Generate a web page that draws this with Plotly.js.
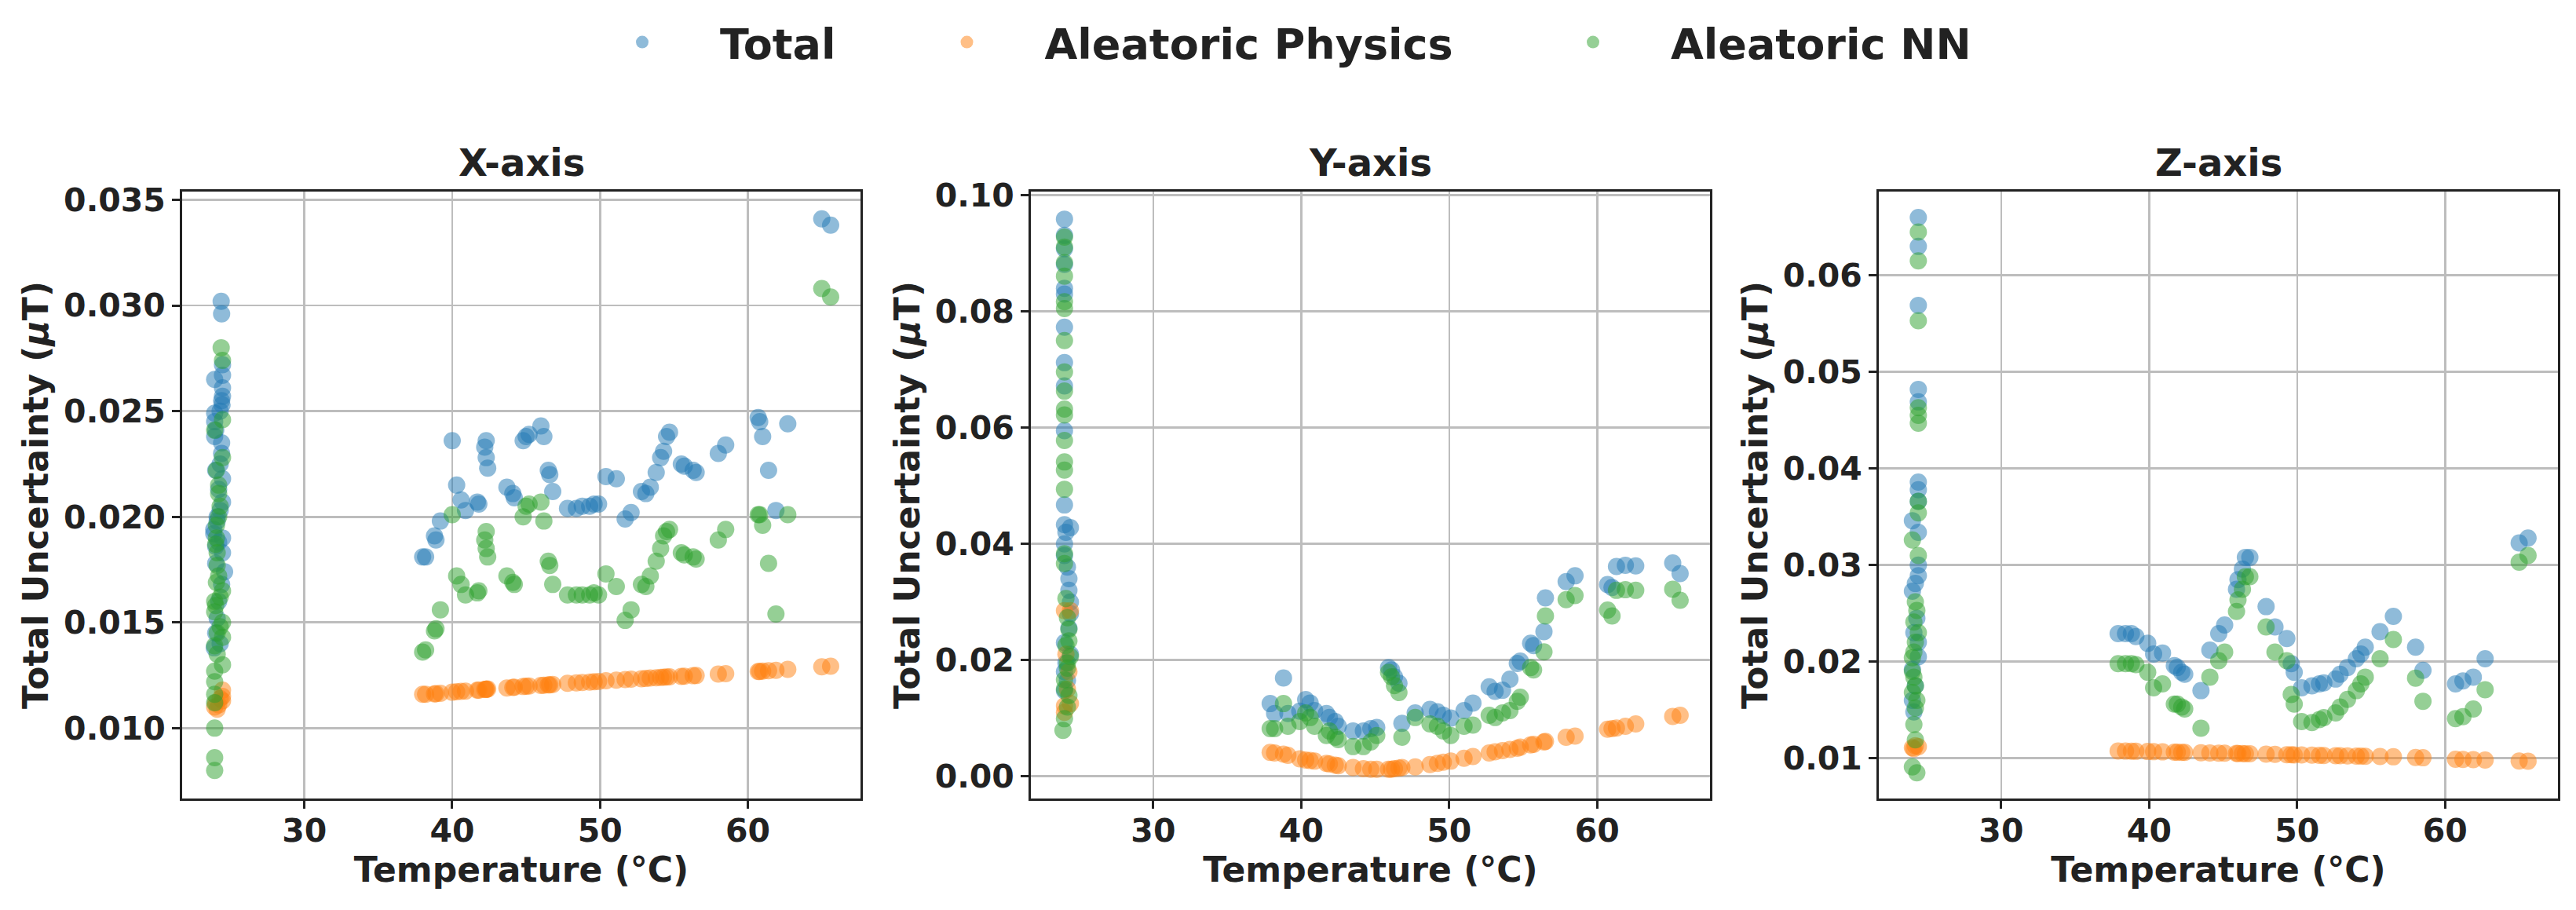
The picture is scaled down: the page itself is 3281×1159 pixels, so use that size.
<!DOCTYPE html>
<html><head><meta charset="utf-8">
<script src="https://cdn.plot.ly/plotly-3.0.1.min.js"></script>
<style>html,body{margin:0;padding:0;background:#fff;} #chart{width:3281px;height:1159px;}</style>
</head><body><div id="chart"></div>
<script>
// ---------- Tick labels ----------
const xTickVals = [30, 40, 50, 60];
const xTickText = ['30', '40', '50', '60'];
const yTickValsX = [0.010, 0.015, 0.020, 0.025, 0.030, 0.035];
const yTickTextX = ['0.010', '0.015', '0.020', '0.025', '0.030', '0.035'];
const yTickValsY = [0.00, 0.02, 0.04, 0.06, 0.08, 0.10];
const yTickTextY = ['0.00', '0.02', '0.04', '0.06', '0.08', '0.10'];
const yTickValsZ = [0.01, 0.02, 0.03, 0.04, 0.05, 0.06];
const yTickTextZ = ['0.01', '0.02', '0.03', '0.04', '0.05', '0.06'];

const panelTitles = ['X-axis', 'Y-axis', 'Z-axis'];
const seriesNames = ['Total', 'Aleatoric Physics', 'Aleatoric NN'];

// ---------- X-axis panel ----------
const hotTempX = [38.0,38.2,38.8,38.9,39.2,40.0,40.3,40.6,40.9,41.7,41.8,42.2,42.3,42.3,42.4,43.7,44.1,44.2,44.8,45.0,45.2,46.0,46.2,46.5,46.6,46.8,47.8,48.4,48.8,49.3,49.6,49.9,50.4,51.1,51.7,52.1,52.8,53.1,53.4,53.8,54.1,54.3,54.5,54.7,55.5,55.7,56.3,56.5,58.0,58.5,60.7,60.8,61.0,61.4,61.9,62.7,65.0,65.6];
const hotTotalX = [0.0181,0.0181,0.0191,0.0189,0.0198,0.0236,0.0215,0.0208,0.0203,0.0207,0.0206,0.0233,0.0236,0.0228,0.0223,0.0214,0.0211,0.0209,0.0236,0.0238,0.0239,0.0243,0.0238,0.0222,0.0220,0.0212,0.0204,0.0204,0.0205,0.0205,0.0206,0.0206,0.0219,0.0218,0.0199,0.0202,0.0212,0.0211,0.0214,0.0221,0.0228,0.0231,0.0238,0.0240,0.0225,0.0224,0.0222,0.0221,0.0230,0.0234,0.0247,0.0245,0.0238,0.0222,0.0203,0.0244,0.0341,0.0338];
const hotPhysX = [0.01160,0.01160,0.01162,0.01163,0.01165,0.01170,0.01172,0.01174,0.01175,0.01180,0.01180,0.01183,0.01184,0.01184,0.01185,0.01190,0.01193,0.01194,0.01197,0.01198,0.01199,0.01202,0.01203,0.01205,0.01205,0.01207,0.01212,0.01214,0.01216,0.01218,0.01220,0.01221,0.01224,0.01227,0.01230,0.01232,0.01234,0.01235,0.01237,0.01238,0.01240,0.01241,0.01242,0.01243,0.01245,0.01246,0.01248,0.01249,0.01256,0.01258,0.01268,0.01268,0.01270,0.01272,0.01274,0.01278,0.01290,0.01293];
const hotNNX = [0.0136,0.0137,0.0146,0.0147,0.0156,0.0201,0.0172,0.0168,0.0163,0.0164,0.0165,0.0189,0.0193,0.0185,0.0181,0.0172,0.0169,0.0168,0.0200,0.0205,0.0206,0.0207,0.0198,0.0179,0.0177,0.0168,0.0163,0.0163,0.0163,0.0163,0.0164,0.0163,0.0173,0.0167,0.0151,0.0156,0.0168,0.0167,0.0172,0.0179,0.0185,0.0191,0.0193,0.0194,0.0183,0.0182,0.0181,0.0180,0.0189,0.0194,0.0201,0.0201,0.0196,0.0178,0.0154,0.0201,0.0308,0.0304];
const coldTempTotalX = [24.37,24.40,23.93,24.46,24.46,24.46,24.40,24.46,24.43,23.93,23.93,24.00,23.93,24.40,24.00,24.46,24.20,24.46,24.30,23.87,23.87,24.10,24.46,24.00,24.60,24.40,24.00,24.20,24.10,24.00,24.30,23.90,24.30,24.40,24.10,24.46,24.30,24.20];
const coldTotalX = [0.0302,0.0296,0.0265,0.0267,0.0272,0.0261,0.0255,0.0257,0.0253,0.0249,0.0245,0.0241,0.0238,0.0235,0.0222,0.0218,0.0213,0.0207,0.0203,0.0194,0.0192,0.0198,0.0183,0.0186,0.0174,0.0168,0.0178,0.0160,0.0152,0.0145,0.0140,0.0138,0.0225,0.0230,0.0200,0.0190,0.0250,0.0188];
const coldTempPhysX = [24.46,24.46,24.46,23.93,24.20,24.00,24.30,24.10];
const coldPhysX = [0.0118,0.0115,0.0113,0.0110,0.0111,0.0112,0.0114,0.0109];
const coldTempNNX = [24.37,24.46,24.46,23.93,24.46,24.05,24.20,24.20,24.30,24.05,24.05,24.10,24.10,24.05,24.46,23.93,23.93,24.46,24.46,23.93,24.46,23.93,23.93,23.93,23.93,23.93,23.93,23.93,24.20,24.00,24.30,24.10,24.20,24.00,24.30,24.10];
const coldNNX = [0.0280,0.0274,0.0246,0.0241,0.0228,0.0222,0.0215,0.0211,0.0205,0.0196,0.0190,0.0183,0.0177,0.0169,0.0165,0.0160,0.0155,0.0150,0.0143,0.0139,0.0130,0.0127,0.0122,0.0116,0.0112,0.0100,0.0086,0.0080,0.0172,0.0158,0.0148,0.0135,0.0200,0.0187,0.0162,0.0145];

// ---------- Y-axis panel ----------
const hotTempY = [37.9,38.2,38.8,39.1,39.9,40.3,40.6,40.9,41.7,41.9,42.3,42.5,43.5,44.2,44.7,45.1,45.9,46.1,46.3,46.6,46.8,47.7,48.7,49.2,49.6,50.1,51.0,51.6,52.7,53.1,53.6,54.1,54.6,54.8,55.5,55.7,56.4,56.5,57.9,58.5,60.7,61.0,61.3,61.9,62.6,65.1,65.6];
const hotTotalY = [0.0125,0.0108,0.0169,0.0108,0.0112,0.0132,0.0126,0.0113,0.0108,0.0101,0.0094,0.0086,0.0078,0.0078,0.0082,0.0084,0.0187,0.0183,0.0171,0.0160,0.0091,0.0109,0.0115,0.0111,0.0105,0.0100,0.0113,0.0126,0.0154,0.0146,0.0148,0.0167,0.0194,0.0198,0.0229,0.0225,0.0249,0.0307,0.0335,0.0345,0.0330,0.0325,0.0361,0.0363,0.0362,0.0367,0.0349];
const hotPhysY = [0.0041,0.0040,0.0038,0.0036,0.0030,0.0028,0.0027,0.0026,0.0022,0.0021,0.0019,0.0018,0.0015,0.0013,0.0012,0.0012,0.0012,0.0012,0.0013,0.0014,0.0015,0.0016,0.0020,0.0022,0.0024,0.0026,0.0031,0.0034,0.0040,0.0042,0.0044,0.0046,0.0048,0.0050,0.0054,0.0055,0.0059,0.0060,0.0067,0.0069,0.0081,0.0082,0.0083,0.0086,0.0090,0.0103,0.0105];
const hotNNY = [0.0082,0.0082,0.0125,0.0086,0.0094,0.0109,0.0101,0.0086,0.0070,0.0078,0.0067,0.0063,0.0051,0.0051,0.0059,0.0070,0.0179,0.0171,0.0156,0.0144,0.0067,0.0101,0.0090,0.0086,0.0078,0.0070,0.0086,0.0088,0.0105,0.0101,0.0109,0.0113,0.0129,0.0136,0.0187,0.0183,0.0214,0.0276,0.0304,0.0311,0.0286,0.0276,0.0320,0.0321,0.0320,0.0322,0.0303];
const coldTempTotalY = [24.0,24.0,24.0,24.0,24.0,24.0,24.0,24.0,24.0,24.0,24.0,24.0,24.4,24.1,24.0,24.0,24.2,24.3,24.3,24.4,24.4,24.3,24.0,24.4,24.0,24.0,24.2,24.1];
const coldTotalY = [0.0959,0.0931,0.0908,0.0881,0.0840,0.0830,0.0773,0.0712,0.0672,0.0595,0.0467,0.0433,0.0428,0.0420,0.0400,0.0380,0.0360,0.0340,0.0320,0.0300,0.0280,0.0255,0.0230,0.0210,0.0180,0.0147,0.0165,0.0195];
const coldTempPhysY = [24.0,24.4,24.0,24.4,24.2,24.0,24.3,24.1];
const coldPhysY = [0.0285,0.0285,0.0121,0.0125,0.0150,0.0110,0.0180,0.0210];
const coldTempNNY = [24.0,24.0,24.0,24.0,24.0,24.0,24.0,24.0,24.0,24.0,24.0,24.0,24.0,24.0,24.0,24.0,24.0,24.1,24.2,24.3,24.3,24.4,24.2,24.0,24.3,24.2,24.0,23.9,24.1,24.2,24.0];
const coldNNY = [0.0928,0.0911,0.0884,0.0861,0.0817,0.0805,0.0750,0.0696,0.0663,0.0632,0.0622,0.0578,0.0541,0.0527,0.0494,0.0383,0.0366,0.0306,0.0273,0.0253,0.0233,0.0206,0.0186,0.0166,0.0139,0.0119,0.0099,0.0079,0.0225,0.0195,0.0150];

// ---------- Z-axis panel ----------
const hotTempZ = [37.9,38.4,38.8,39.1,39.9,40.3,40.9,41.7,41.9,42.2,42.4,43.5,44.1,44.7,45.1,45.9,46.0,46.3,46.5,46.8,47.9,48.5,49.3,49.6,49.8,50.3,51.0,51.5,51.8,52.6,52.9,53.4,54.0,54.3,54.6,55.6,56.5,58.0,58.5,60.7,61.2,61.9,62.7,65.0,65.6];
const hotTotalZ = [0.0229,0.0229,0.0229,0.0226,0.0219,0.0208,0.0209,0.0196,0.0194,0.0189,0.0187,0.0170,0.0212,0.0229,0.0238,0.0275,0.0285,0.0296,0.0308,0.0308,0.0257,0.0236,0.0224,0.0198,0.0189,0.0173,0.0175,0.0177,0.0178,0.0182,0.0187,0.0194,0.0203,0.0208,0.0215,0.0231,0.0247,0.0215,0.0191,0.0177,0.0180,0.0184,0.0203,0.0323,0.0328];
const hotPhysZ = [0.01075,0.01074,0.01073,0.01072,0.01070,0.01068,0.01066,0.01063,0.01062,0.01061,0.01060,0.01057,0.01055,0.01053,0.01052,0.01050,0.01049,0.01048,0.01047,0.01046,0.01042,0.01040,0.01037,0.01036,0.01035,0.01034,0.01032,0.01030,0.01029,0.01027,0.01026,0.01025,0.01023,0.01022,0.01021,0.01018,0.01015,0.01008,0.01005,0.00990,0.00988,0.00985,0.00982,0.00972,0.00970];
const hotNNZ = [0.0198,0.0198,0.0198,0.0197,0.0189,0.0173,0.0177,0.0156,0.0156,0.0153,0.0151,0.0131,0.0184,0.0201,0.0210,0.0252,0.0264,0.0275,0.0288,0.0288,0.0236,0.0210,0.0201,0.0166,0.0156,0.0138,0.0137,0.0140,0.0142,0.0147,0.0153,0.0161,0.0170,0.0177,0.0184,0.0203,0.0223,0.0183,0.0159,0.0141,0.0143,0.0151,0.0171,0.0303,0.0310];
const coldTempTotalZ = [24.4,24.4,24.4,24.4,24.4,24.4,24.4,24.4,24.0,24.4,24.4,24.2,24.0,24.3,24.4,24.0,24.1,24.4,24.2,24.0,24.4,24.1];
const coldTotalZ = [0.0660,0.0630,0.0569,0.0482,0.0469,0.0386,0.0378,0.0366,0.0346,0.0334,0.0289,0.0281,0.0273,0.0245,0.0220,0.0192,0.0148,0.0205,0.0175,0.0160,0.0300,0.0230];
const coldTempPhysZ = [24.0,24.4,24.2,24.1];
const coldPhysZ = [0.0111,0.0112,0.0113,0.0110];
const coldTempNNZ = [24.4,24.4,24.4,24.4,24.4,24.4,24.4,24.4,24.0,24.4,24.2,24.3,24.1,24.2,24.0,24.1,24.0,24.2,24.1,24.2,24.0,24.3,24.4,24.0,24.3,24.1,24.2];
const coldNNZ = [0.0645,0.0615,0.0553,0.0463,0.0455,0.0447,0.0366,0.0354,0.0326,0.0310,0.0262,0.0253,0.0241,0.0220,0.0204,0.0184,0.0168,0.0152,0.0135,0.0119,0.0091,0.0085,0.0230,0.0190,0.0160,0.0210,0.0175];

// ---------- Build figure ----------
const W = 3281, H = 1159;
const FONT = 'DejaVu Sans, Verdana, sans-serif';
const TXT = '#222222';
const seriesColors = ['#1f77b4', '#ff7f0e', '#2ca02c'];
const legendIds = ['legend', 'legend2', 'legend3'];

const panels = [
  {hotT: hotTempX, hot: [hotTotalX, hotPhysX, hotNNX],
   coldT: [coldTempTotalX, coldTempPhysX, coldTempNNX], cold: [coldTotalX, coldPhysX, coldNNX],
   range: [0.00667, 0.03539], tv: yTickValsX, tt: yTickTextX},
  {hotT: hotTempY, hot: [hotTotalY, hotPhysY, hotNNY],
   coldT: [coldTempTotalY, coldTempPhysY, coldTempNNY], cold: [coldTotalY, coldPhysY, coldNNY],
   range: [-0.00384, 0.10065], tv: yTickValsY, tt: yTickTextY},
  {hotT: hotTempZ, hot: [hotTotalZ, hotPhysZ, hotNNZ],
   coldT: [coldTempTotalZ, coldTempPhysZ, coldTempNNZ], cold: [coldTotalZ, coldPhysZ, coldNNZ],
   range: [0.00583, 0.06868], tv: yTickValsZ, tt: yTickTextZ}
];

const xPix = [[232, 1096], [1313, 2178], [2393, 3258]];
const yDom = [1 - 1017 / H, 1 - 244 / H];

const traces = [];
const layout = {
  width: W, height: H,
  margin: {l: 0, r: 0, t: 0, b: 0, pad: 0},
  paper_bgcolor: '#ffffff', plot_bgcolor: '#ffffff',
  font: {family: FONT, color: TXT},
  hovermode: false,
  annotations: []
};

panels.forEach((p, i) => {
  const s = i === 0 ? '' : String(i + 1);
  for (let k = 0; k < 3; k++) {
    traces.push({
      type: 'scatter', mode: 'markers',
      x: p.coldT[k].concat(p.hotT),
      y: p.cold[k].concat(p.hot[k]),
      xaxis: 'x' + s, yaxis: 'y' + s,
      name: seriesNames[k], legendgroup: seriesNames[k],
      legend: legendIds[k],
      showlegend: i === 0,
      marker: {size: 22, color: seriesColors[k], opacity: 0.5, line: {width: 0}}
    });
  }
  const axCommon = {
    showgrid: true, gridcolor: '#bdbdbd', gridwidth: 2.7,
    showline: true, mirror: true, linecolor: '#222222', linewidth: 3,
    ticks: 'outside', ticklen: 10, tickwidth: 3, tickcolor: '#222222',
    tickfont: {family: FONT, size: 41, weight: 'bold', color: TXT},
    zeroline: false, automargin: false, layer: 'below traces'
  };
  layout['xaxis' + s] = Object.assign({}, axCommon, {
    domain: [xPix[i][0] / W, xPix[i][1] / W],
    anchor: 'y' + s,
    range: [21.73, 67.62],
    tickmode: 'array', tickvals: xTickVals, ticktext: xTickText,
    ticklabelstandoff: -7,
    title: {text: 'Temperature (°C)', font: {family: FONT, size: 44, weight: 'bold', color: TXT}, standoff: 4}
  });
  layout['yaxis' + s] = Object.assign({}, axCommon, {
    domain: yDom,
    anchor: 'x' + s,
    range: p.range,
    tickmode: 'array', tickvals: p.tv, ticktext: p.tt,
    title: {text: 'Total Uncertainty (<i>μ</i>T)', font: {family: FONT, size: 44, weight: 'bold', color: TXT}, standoff: 6}
  });
  layout.annotations.push({
    text: panelTitles[i], showarrow: false,
    xref: 'paper', yref: 'paper',
    x: (xPix[i][0] + xPix[i][1]) / 2 / W, y: yDom[1],
    xanchor: 'center', yanchor: 'bottom', yshift: 7,
    font: {family: FONT, size: 48, weight: 'bold', color: TXT}
  });
});

const legendMarkerX = [818, 1231.5, 2029];
const itemW = 188;
legendIds.forEach((id, k) => {
  layout[id] = {
    x: (legendMarkerX[k] - 5 - itemW / 2) / W, xanchor: 'left',
    y: 1 - 54 / H, yanchor: 'middle',
    orientation: 'h', itemwidth: itemW,
    bgcolor: 'rgba(0,0,0,0)', borderwidth: 0,
    font: {family: FONT, size: 54, weight: 'bold', color: TXT}
  };
});

Plotly.newPlot('chart', traces, layout, {staticPlot: true, displayModeBar: false});
</script>
</body></html>
